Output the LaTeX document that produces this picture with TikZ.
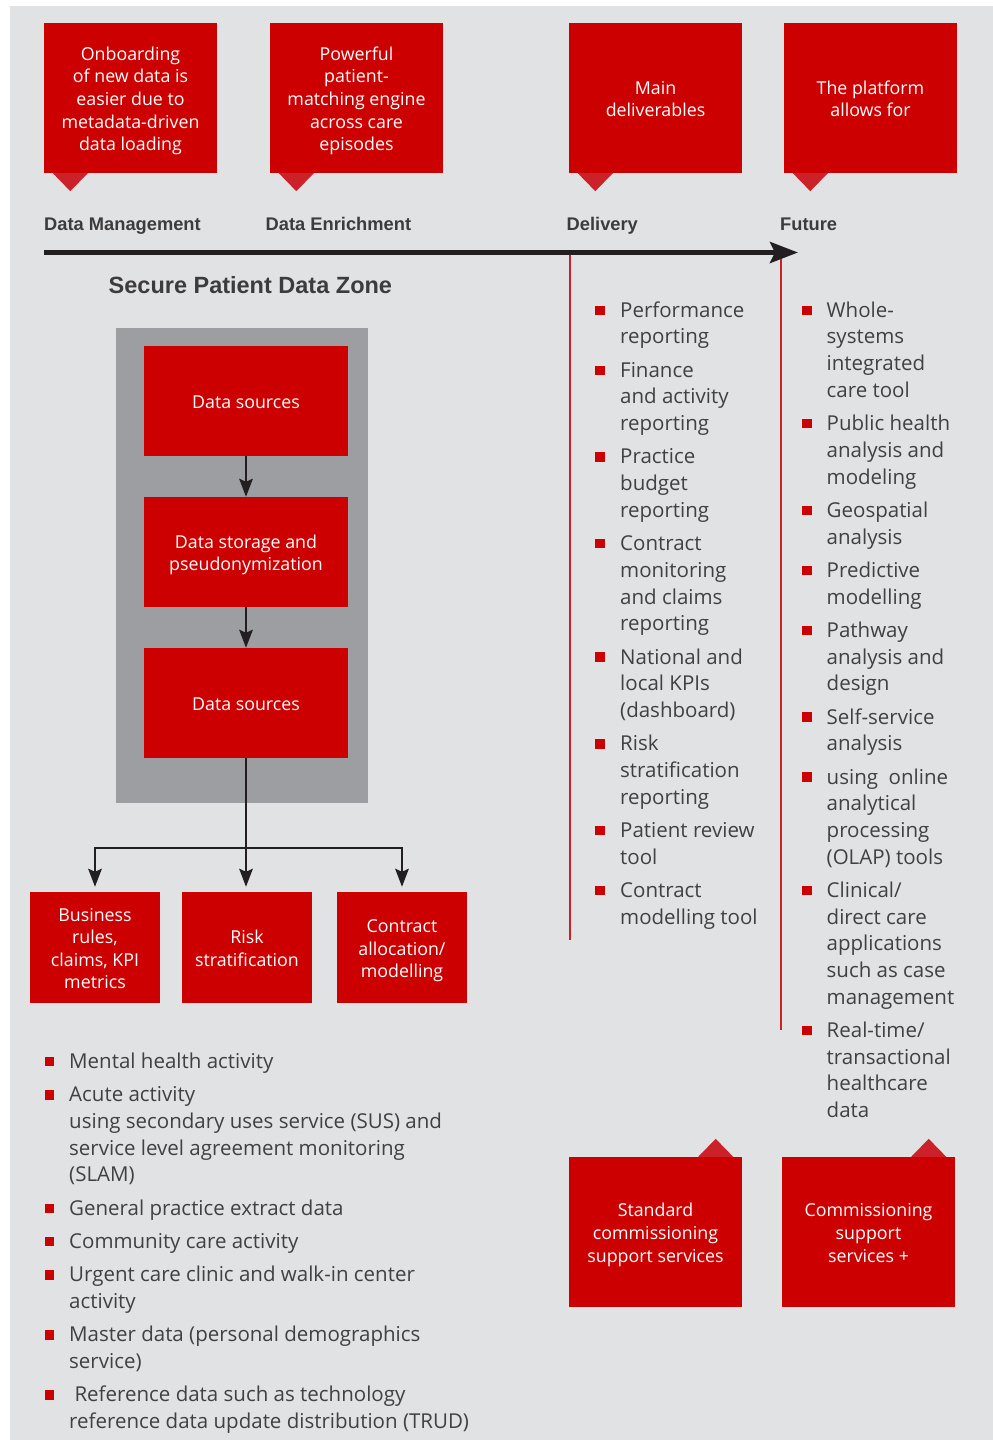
\documentclass[tikz,border=0pt]{standalone}
\usepackage{fontspec}
\setmainfont{Open Sans}
\newfontfamily\headfont{Liberation Sans}
\usetikzlibrary{arrows.meta,calc}
\definecolor{bg}{HTML}{E1E2E4}
\definecolor{boxred}{HTML}{CC0000}
\definecolor{trired}{HTML}{CD2129}
\definecolor{zonegray}{HTML}{9D9EA1}
\definecolor{ink}{HTML}{231F20}
\definecolor{txt}{HTML}{414042}
\definecolor{headc}{HTML}{3C3C3C}
\newcommand\listentry[5]{%
  \node[bullet] (#1-b) at (#2,#4-6.7) {};
  \node[item] (#1) at (#3,#4-18.69) {\strut#5};}
\newcommand\toprl{\rule{0pt}{20pt}}
\newcommand\botrl{\rule[-5pt]{0pt}{5pt}}
\begin{document}
\begin{tikzpicture}[x=1pt,y=-1pt,
  redbox/.style={fill=boxred, text=white, inner sep=0pt, align=center, font=\fontsize{17.8}{22.6}\selectfont},
  topbox/.style={redbox, minimum width=173pt, minimum height=150pt},
  zonebox/.style={redbox, minimum width=204pt, minimum height=110pt},
  outbox/.style={redbox, minimum width=130pt, minimum height=111pt},
  tri/.style={fill=trired},
  phase/.style={anchor=base west, inner sep=0pt, text=headc, font=\headfont\bfseries\fontsize{18.3}{22}\selectfont},
  item/.style={anchor=north west, inner sep=0pt, align=left, text=txt, font=\fontsize{20.5}{26.7}\selectfont},
  bullet/.style={fill=boxred, minimum size=9.5pt, inner sep=0pt},
  flow/.style={draw=ink, line width=2.5pt, -{Stealth[length=18pt,width=13.5pt,inset=3pt]}},
  vline/.style={draw=trired, line width=2.3pt},
]
\useasboundingbox (0,0) rectangle (993,1440);
\fill[white] (0,0) rectangle (993,1440);
\fill[bg] (10,6) rectangle (993,1440);

% top boxes
\node[topbox] (b1) at (130.5,98) {\toprl Onboarding\\of new data is\\easier due to\\metadata-driven\\data loading\botrl};
\node[topbox] (b2) at (356.5,98) {\toprl Powerful\\patient-\\matching engine\\across care\\episodes\botrl};
\node[topbox] (b3) at (655.5,98) {\toprl Main\\deliverables\botrl};
\node[topbox] (b4) at (870.5,98) {\toprl The platform\\allows for\botrl};
\foreach \b in {b1,b2,b3,b4}{
  \fill[tri] ($(\b.south west)+(9,0)$) -- ($(\b.south west)+(44,0)$) -- ($(\b.south west)+(26.5,18)$) -- cycle;
}

% phase labels
\node[phase] (pm) at (44,230.5) {Data Management};
\node[phase] (pe) at (265.5,230.5) {Data Enrichment};
\node[phase] (pd) at (566.5,230.5) {Delivery};
\node[phase] (pf) at (780,230.5) {Future};

% red vertical lines
\coordinate (dtop) at (570,252);
\coordinate (dbot) at (570,940);
\coordinate (ftop) at (781,252);
\coordinate (fbot) at (781,1030);
\draw[vline] (dtop) -- (dbot);
\draw[vline] (ftop) -- (fbot);

% timeline
\coordinate (tlstart) at (44,252.5);
\coordinate (tlend) at (798,252.5);
\draw[ink, line width=5pt, -{Stealth[length=28pt,width=21pt,inset=5pt]}] (tlstart) -- (tlend);

% secure zone
\node[anchor=base west, inner sep=0pt, text=headc, font=\headfont\bfseries\fontsize{23.5}{28}\selectfont] (zone) at (108.5,293) {Secure Patient Data Zone};
\node[fill=zonegray, minimum width=252pt, minimum height=475pt, inner sep=0pt] (zonebg) at (242,565.5) {};
\node[zonebox] (ds1) at (246,401) {\toprl Data sources\botrl};
\node[zonebox] (ds2) at (246,552) {\toprl Data storage and\\pseudonymization\botrl};
\node[zonebox] (ds3) at (246,703) {\toprl Data sources\botrl};
\draw[flow] (ds1.south) -- (ds2.north);
\draw[flow] (ds2.south) -- (ds3.north);

% outputs
\node[outbox] (oa) at (95,947.5) {\toprl Business\\rules,\\claims, KPI\\metrics\botrl};
\node[outbox] (ob) at (247,947.5) {\toprl Risk\\stratification\botrl};
\node[outbox] (oc) at (402,947.5) {\toprl Contract\\allocation/\\modelling\botrl};
\coordinate (split) at (246,848);
\draw[ink, line width=2.5pt] (ds3.south) -- (split);
\draw[flow, shorten >=5pt] (split) -| (oa.north);
\draw[flow, shorten >=5pt] (split) -| (oc.north);
\draw[flow, shorten >=5pt] (ds3.south) -- (ds3.south |- ob.north);

% bottom boxes
\node[topbox] (std) at (655.5,1232) {\toprl Standard\\commissioning\\support services\botrl};
\node[topbox] (css) at (868.5,1232) {\toprl Commissioning\\support\\services +\botrl};
\foreach \b in {std,css}{
  \fill[tri] ($(\b.north east)+(-44,0)$) -- ($(\b.north east)+(-9,0)$) -- ($(\b.north east)+(-26.5,-18)$) -- cycle;
}

% left list
\listentry{l1}{49.5}{69}{1068.3}{Mental health activity}
\listentry{l2}{49.5}{69}{1101.6}{Acute activity\\using secondary uses service (SUS) and\\service level agreement monitoring\\(SLAM)}
\listentry{l3}{49.5}{69}{1215}{General practice extract data}
\listentry{l4}{49.5}{69}{1248.3}{Community care activity}
\listentry{l5}{49.5}{69}{1281.6}{Urgent care clinic and walk-in center\\activity}
\listentry{l6}{49.5}{69}{1341.6}{Master data (personal demographics\\service)}
\listentry{l7}{49.5}{69}{1401.6}{\ Reference data such as technology\\reference data update distribution (TRUD)}

% delivery list
\listentry{d1}{600}{620}{317}{Performance\\reporting}
\listentry{d2}{600}{620}{377}{Finance\\and activity\\reporting}
\listentry{d3}{600}{620}{463.7}{Practice\\budget\\reporting}
\listentry{d4}{600}{620}{550.4}{Contract\\monitoring\\and claims\\reporting}
\listentry{d5}{600}{620}{663.8}{National and\\local KPIs\\(dashboard)}
\listentry{d6}{600}{620}{750.5}{Risk\\stratification\\reporting}
\listentry{d7}{600}{620}{837.2}{Patient review\\tool}
\listentry{d8}{600}{620}{897.2}{Contract\\modelling tool}

% future list
\listentry{f1}{807}{826.5}{317}{Whole-\\systems\\integrated\\care tool}
\listentry{f2}{807}{826.5}{430.4}{Public health\\analysis and\\modeling}
\listentry{f3}{807}{826.5}{517.1}{Geospatial\\analysis}
\listentry{f4}{807}{826.5}{577.1}{Predictive\\modelling}
\listentry{f5}{807}{826.5}{637.1}{Pathway\\analysis and\\design}
\listentry{f6}{807}{826.5}{723.8}{Self-service\\analysis}
\listentry{f7}{807}{826.5}{783.8}{using\ \ online\\analytical\\processing\\(OLAP) tools}
\listentry{f8}{807}{826.5}{897.2}{Clinical/\\direct care\\applications\\such as case\\management}
\listentry{f9}{807}{826.5}{1037.3}{Real-time/\\transactional\\healthcare\\data}
\end{tikzpicture}
\end{document}
